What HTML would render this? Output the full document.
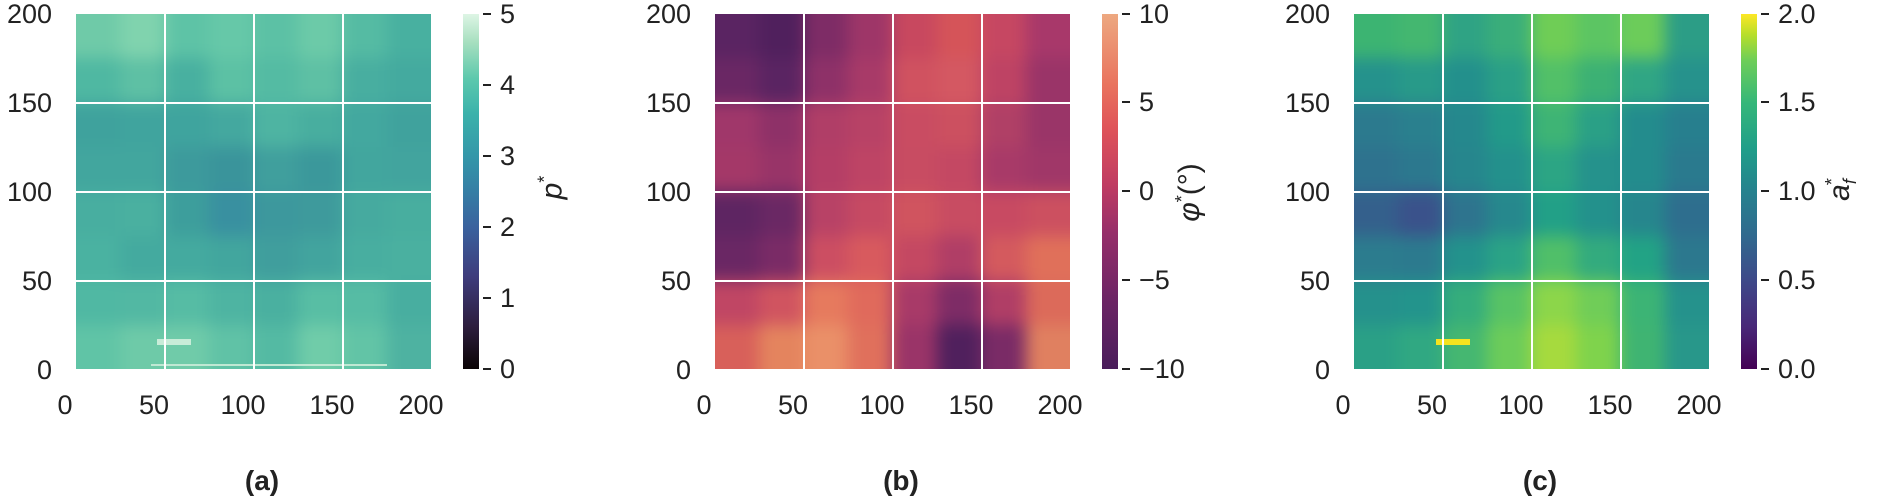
<!DOCTYPE html>
<html><head><meta charset="utf-8"><style>
body{margin:0;width:1877px;height:498px;background:#fff;position:relative;overflow:hidden;font-family:"Liberation Sans","DejaVu Sans",sans-serif;color:#222}
.plot{position:absolute;top:14px;width:355px;height:355px;overflow:hidden}
.grid{position:absolute;left:-30px;top:-30px;width:415px;height:415px;display:grid;grid-template-columns:74.4px repeat(6,44.37px) 74.4px;grid-template-rows:74.4px repeat(6,44.37px) 74.4px;filter:blur(8px)}
.grid i{display:block}
.gl{position:absolute;background:#fff}
.v{top:0;width:2px;height:355px}
.h{left:0;height:2px;width:355px}
.t{position:absolute;font-size:27px;line-height:1}
.yl{text-align:right;width:70px}
.xl{width:80px;text-align:center}
.cb{position:absolute;top:14px;width:16px;height:355px}
.tk{position:absolute;width:8px;height:2px;background:#222}
.sub{position:absolute;top:465px;font-size:28px;font-weight:bold;width:80px;text-align:center}
.lab{position:absolute;font-size:30px;font-style:italic;transform:rotate(-90deg);white-space:nowrap}
</style></head><body>

<!-- Panel a -->
<div class="plot" style="left:76px;background:#48ad9f">
<div class="grid">
<i style="background:#6fcaa8"></i><i style="background:#80d3ae"></i><i style="background:#5ec3a6"></i><i style="background:#66c8a8"></i><i style="background:#5cc1a5"></i><i style="background:#6ccaa8"></i><i style="background:#55bba3"></i><i style="background:#48b0a0"></i>
<i style="background:#4fb8a2"></i><i style="background:#5ec0a4"></i><i style="background:#48b0a0"></i><i style="background:#5cc1a4"></i><i style="background:#54bba3"></i><i style="background:#5ec0a4"></i><i style="background:#48aea0"></i><i style="background:#44aa9f"></i>
<i style="background:#3fa29d"></i><i style="background:#40a49e"></i><i style="background:#3fa49e"></i><i style="background:#44a89f"></i><i style="background:#4eb4a2"></i><i style="background:#48ae9f"></i><i style="background:#43a89f"></i><i style="background:#40a29d"></i>
<i style="background:#42a69e"></i><i style="background:#42a69e"></i><i style="background:#3d9a9c"></i><i style="background:#3a949b"></i><i style="background:#409f9d"></i><i style="background:#3b989b"></i><i style="background:#42a69e"></i><i style="background:#42a49e"></i>
<i style="background:#48aea0"></i><i style="background:#4ab0a0"></i><i style="background:#3d9e9c"></i><i style="background:#3990a0"></i><i style="background:#3d989d"></i><i style="background:#3e9a9c"></i><i style="background:#46aa9f"></i><i style="background:#48ae9f"></i>
<i style="background:#4ab2a1"></i><i style="background:#44aa9f"></i><i style="background:#44aa9f"></i><i style="background:#42a69e"></i><i style="background:#409e9d"></i><i style="background:#42a49e"></i><i style="background:#48aea0"></i><i style="background:#4ab0a0"></i>
<i style="background:#50b8a3"></i><i style="background:#52b8a3"></i><i style="background:#56bca4"></i><i style="background:#4eb4a2"></i><i style="background:#4ab0a0"></i><i style="background:#58bea4"></i><i style="background:#56bca4"></i><i style="background:#48aea0"></i>
<i style="background:#60c4a6"></i><i style="background:#6ecaa8"></i><i style="background:#70cba9"></i><i style="background:#60c2a6"></i><i style="background:#54baa3"></i><i style="background:#70cca9"></i><i style="background:#62c4a6"></i><i style="background:#4eb2a1"></i>
</div>
<div style="position:absolute;left:81px;top:325px;width:34px;height:6px;background:#c8ecd8"></div>
<div style="position:absolute;left:75px;top:350px;width:236px;height:2px;background:#bfe8d3"></div>
<div class="gl v" style="left:88px"></div><div class="gl v" style="left:177px"></div><div class="gl v" style="left:266px"></div>
<div class="gl h" style="top:88px"></div><div class="gl h" style="top:177px"></div><div class="gl h" style="top:266px"></div>
</div>
<div class="t yl" style="left:-18px;top:1px">200</div>
<div class="t yl" style="left:-18px;top:90px">150</div>
<div class="t yl" style="left:-18px;top:179px">100</div>
<div class="t yl" style="left:-18px;top:268px">50</div>
<div class="t yl" style="left:-18px;top:357px">0</div>
<div class="t xl" style="left:25px;top:392px">0</div>
<div class="t xl" style="left:114px;top:392px">50</div>
<div class="t xl" style="left:203px;top:392px">100</div>
<div class="t xl" style="left:292px;top:392px">150</div>
<div class="t xl" style="left:381px;top:392px">200</div>
<div class="cb" style="left:463px;background:linear-gradient(to top,#0b0405,#2d1e3e 12%,#3e3c7c 26%,#3a629e 40%,#357ea5 50%,#3497a9 60%,#3bb2ab 72%,#5ec9ad 82%,#a6dfbf 92%,#def5e5)"></div>
<div class="tk" style="left:483px;top:13px"></div><div class="tk" style="left:483px;top:84px"></div><div class="tk" style="left:483px;top:155px"></div><div class="tk" style="left:483px;top:226px"></div><div class="tk" style="left:483px;top:297px"></div><div class="tk" style="left:483px;top:368px"></div>
<div class="t" style="left:500px;top:1px">5</div><div class="t" style="left:500px;top:72px">4</div><div class="t" style="left:500px;top:143px">3</div><div class="t" style="left:500px;top:214px">2</div><div class="t" style="left:500px;top:285px">1</div><div class="t" style="left:500px;top:356px">0</div>
<div class="lab" style="left:540px;top:170px">p<sup style="font-size:18px;font-style:normal">*</sup></div>
<div class="sub" style="left:222px">(a)</div>

<!-- Panel b -->
<div class="plot" style="left:715px;background:#b03e66">
<div class="grid">
<i style="background:#5a2462"></i><i style="background:#50205d"></i><i style="background:#7e2c66"></i><i style="background:#9e3668"></i><i style="background:#c8485f"></i><i style="background:#d55459"></i><i style="background:#c64762"></i><i style="background:#a8386a"></i>
<i style="background:#6a2764"></i><i style="background:#5a2462"></i><i style="background:#8e3168"></i><i style="background:#a83a68"></i><i style="background:#d05260"></i><i style="background:#d45862"></i><i style="background:#be4364"></i><i style="background:#9a3468"></i>
<i style="background:#a0376a"></i><i style="background:#8e3168"></i><i style="background:#b03e67"></i><i style="background:#b84266"></i><i style="background:#c94c62"></i><i style="background:#cc5060"></i><i style="background:#b04066"></i><i style="background:#9a3568"></i>
<i style="background:#a43868"></i><i style="background:#983468"></i><i style="background:#b43e66"></i><i style="background:#be4465"></i><i style="background:#c84c62"></i><i style="background:#c44863"></i><i style="background:#a83a68"></i><i style="background:#a03768"></i>
<i style="background:#5e2562"></i><i style="background:#6a2864"></i><i style="background:#b84266"></i><i style="background:#c64a63"></i><i style="background:#d0545f"></i><i style="background:#c84c62"></i><i style="background:#c84a62"></i><i style="background:#cc5060"></i>
<i style="background:#6a2764"></i><i style="background:#7a2b66"></i><i style="background:#cc4e62"></i><i style="background:#d85a5e"></i><i style="background:#c44862"></i><i style="background:#b03e66"></i><i style="background:#d45a5e"></i><i style="background:#e0705a"></i>
<i style="background:#c04664"></i><i style="background:#d05460"></i><i style="background:#e67a5e"></i><i style="background:#e06a5c"></i><i style="background:#a83a68"></i><i style="background:#7e2c66"></i><i style="background:#b03e66"></i><i style="background:#dc6a5a"></i>
<i style="background:#d8605a"></i><i style="background:#e4845e"></i><i style="background:#ea9068"></i><i style="background:#e0705c"></i><i style="background:#9a3468"></i><i style="background:#50205d"></i><i style="background:#7a2b66"></i><i style="background:#e08060"></i>
</div>
<div class="gl v" style="left:88px"></div><div class="gl v" style="left:177px"></div><div class="gl v" style="left:266px"></div>
<div class="gl h" style="top:88px"></div><div class="gl h" style="top:177px"></div><div class="gl h" style="top:266px"></div>
</div>
<div class="t yl" style="left:621px;top:1px">200</div>
<div class="t yl" style="left:621px;top:90px">150</div>
<div class="t yl" style="left:621px;top:179px">100</div>
<div class="t yl" style="left:621px;top:268px">50</div>
<div class="t yl" style="left:621px;top:357px">0</div>
<div class="t xl" style="left:664px;top:392px">0</div>
<div class="t xl" style="left:753px;top:392px">50</div>
<div class="t xl" style="left:842px;top:392px">100</div>
<div class="t xl" style="left:931px;top:392px">150</div>
<div class="t xl" style="left:1020px;top:392px">200</div>
<div class="cb" style="left:1102px;background:linear-gradient(to top,#4a1d5b,#6d2565 20%,#952e6a 38%,#c03c62 52%,#df5459 68%,#e9735e 80%,#eda880)"></div>
<div class="tk" style="left:1122px;top:13px"></div><div class="tk" style="left:1122px;top:101px"></div><div class="tk" style="left:1122px;top:190px"></div><div class="tk" style="left:1122px;top:279px"></div><div class="tk" style="left:1122px;top:368px"></div>
<div class="t" style="left:1139px;top:1px">10</div><div class="t" style="left:1139px;top:89px">5</div><div class="t" style="left:1139px;top:178px">0</div><div class="t" style="left:1139px;top:267px">−5</div><div class="t" style="left:1139px;top:356px">−10</div>
<div class="lab" style="left:1160px;top:175px">φ<sup style="font-size:18px;font-style:normal">*</sup><span style="font-style:normal">(°)</span></div>
<div class="sub" style="left:861px">(b)</div>

<!-- Panel c -->
<div class="plot" style="left:1354px;background:#2a958a">
<div class="grid">
<i style="background:#3cb472"></i><i style="background:#44b770"></i><i style="background:#2fa384"></i><i style="background:#3aae7a"></i><i style="background:#6fcd56"></i><i style="background:#5cc563"></i><i style="background:#6ccc5a"></i><i style="background:#2c9d86"></i>
<i style="background:#25928c"></i><i style="background:#289a89"></i><i style="background:#23908c"></i><i style="background:#2aa086"></i><i style="background:#52c068"></i><i style="background:#3cb174"></i><i style="background:#30a684"></i><i style="background:#26928c"></i>
<i style="background:#2c7a8e"></i><i style="background:#2a808e"></i><i style="background:#25888d"></i><i style="background:#229a89"></i><i style="background:#3eb475"></i><i style="background:#2aa086"></i><i style="background:#238c8d"></i><i style="background:#277f8e"></i>
<i style="background:#2e728e"></i><i style="background:#2c788e"></i><i style="background:#26868d"></i><i style="background:#23918c"></i><i style="background:#2ca584"></i><i style="background:#25928c"></i><i style="background:#238c8d"></i><i style="background:#2a7a8e"></i>
<i style="background:#34608c"></i><i style="background:#3a528b"></i><i style="background:#2e748e"></i><i style="background:#26888d"></i><i style="background:#22a087"></i><i style="background:#23918c"></i><i style="background:#26868d"></i><i style="background:#2e6e8e"></i>
<i style="background:#2c7c8e"></i><i style="background:#2c7a8e"></i><i style="background:#23928c"></i><i style="background:#2aa386"></i><i style="background:#50bf69"></i><i style="background:#33ab7e"></i><i style="background:#22a385"></i><i style="background:#2c788e"></i>
<i style="background:#25918c"></i><i style="background:#23948c"></i><i style="background:#35ad7c"></i><i style="background:#58c365"></i><i style="background:#8cd64a"></i><i style="background:#70cd58"></i><i style="background:#3cb475"></i><i style="background:#25928c"></i>
<i style="background:#2aa086"></i><i style="background:#30a882"></i><i style="background:#45b771"></i><i style="background:#6ccc5a"></i><i style="background:#a6da3e"></i><i style="background:#7fd34c"></i><i style="background:#3fb472"></i><i style="background:#28978a"></i>
</div>
<div style="position:absolute;left:82px;top:325px;width:34px;height:6px;background:#f5e31f"></div>
<div class="gl v" style="left:88px"></div><div class="gl v" style="left:177px"></div><div class="gl v" style="left:266px"></div>
<div class="gl h" style="top:88px"></div><div class="gl h" style="top:177px"></div><div class="gl h" style="top:266px"></div>
</div>
<div class="t yl" style="left:1260px;top:1px">200</div>
<div class="t yl" style="left:1260px;top:90px">150</div>
<div class="t yl" style="left:1260px;top:179px">100</div>
<div class="t yl" style="left:1260px;top:268px">50</div>
<div class="t yl" style="left:1260px;top:357px">0</div>
<div class="t xl" style="left:1303px;top:392px">0</div>
<div class="t xl" style="left:1392px;top:392px">50</div>
<div class="t xl" style="left:1481px;top:392px">100</div>
<div class="t xl" style="left:1570px;top:392px">150</div>
<div class="t xl" style="left:1659px;top:392px">200</div>
<div class="cb" style="left:1741px;background:linear-gradient(to top,#440154,#482878 12%,#3e4989 25%,#31688e 37%,#26828e 50%,#1f9e89 62%,#35b779 75%,#6ece58 87%,#b5de2b 94%,#fde725)"></div>
<div class="tk" style="left:1761px;top:13px"></div><div class="tk" style="left:1761px;top:101px"></div><div class="tk" style="left:1761px;top:190px"></div><div class="tk" style="left:1761px;top:279px"></div><div class="tk" style="left:1761px;top:368px"></div>
<div class="t" style="left:1778px;top:1px">2.0</div><div class="t" style="left:1778px;top:89px">1.5</div><div class="t" style="left:1778px;top:178px">1.0</div><div class="t" style="left:1778px;top:267px">0.5</div><div class="t" style="left:1778px;top:356px">0.0</div>
<div class="lab" style="left:1830px;top:170px">a<sub style="font-size:18px">f</sub><sup style="font-size:18px;font-style:normal;margin-left:-6px">*</sup></div>
<div class="sub" style="left:1500px">(c)</div>
</body></html>
